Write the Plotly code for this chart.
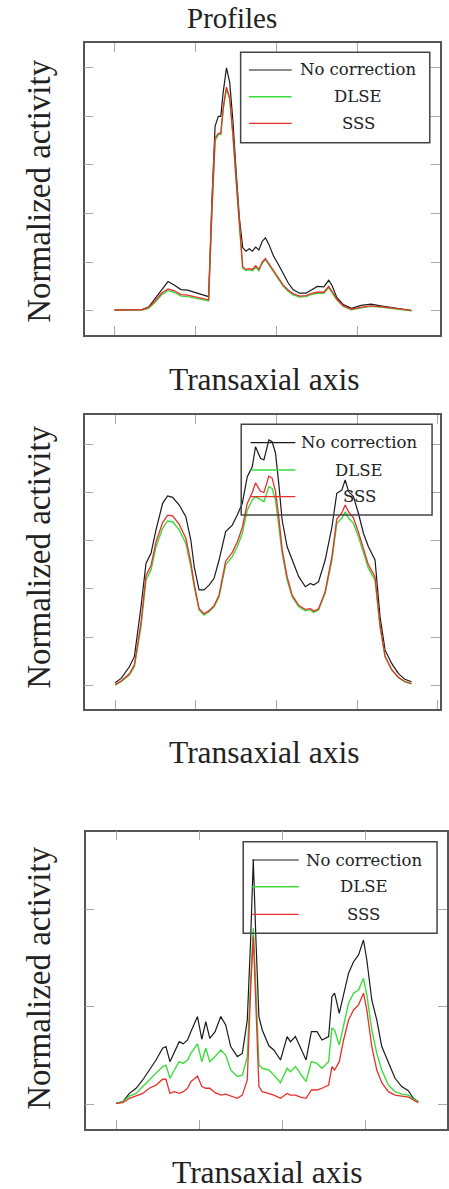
import plotly.graph_objects as go

W, H = 449, 1189

# ---------------- data ----------------
# Panel 1
x1 = [0, 10, 17, 21, 25, 29, 33, 37, 41, 45, 49, 53, 56, 58, 60, 62, 64, 65.5, 67, 69, 71, 73, 75, 77,
      79, 81, 83, 85, 87, 89, 91, 93, 95, 98, 101, 104, 107, 110, 114, 118, 122, 125, 129, 132, 134,
      137, 141, 146, 152, 158, 165, 173, 183]
nocorr1 = [0.003, 0.003, 0.005, 0.015, 0.05, 0.09, 0.12, 0.105, 0.087, 0.085, 0.077, 0.068, 0.06, 0.058,
           0.45, 0.76, 0.80, 0.80, 0.90, 1.0, 0.94, 0.78, 0.57, 0.38, 0.26, 0.245, 0.255, 0.245, 0.262,
           0.25, 0.285, 0.30, 0.275, 0.225, 0.19, 0.15, 0.115, 0.087, 0.072, 0.072, 0.09, 0.10, 0.098,
           0.125, 0.105, 0.055, 0.025, 0.01, 0.022, 0.027, 0.019, 0.01, 0.0]
dlse1 = [0.002, 0.002, 0.003, 0.01, 0.035, 0.065, 0.083, 0.075, 0.06, 0.058, 0.052, 0.048, 0.042, 0.04,
         0.40, 0.70, 0.725, 0.725, 0.83, 0.915, 0.87, 0.72, 0.53, 0.33, 0.175, 0.165, 0.168, 0.165, 0.18,
         0.165, 0.195, 0.21, 0.19, 0.155, 0.13, 0.10, 0.08, 0.065, 0.056, 0.058, 0.068, 0.072, 0.072,
         0.095, 0.075, 0.045, 0.018, 0.004, 0.012, 0.018, 0.014, 0.008, 0.0]
sss1 = [0.003, 0.003, 0.004, 0.013, 0.04, 0.072, 0.09, 0.082, 0.066, 0.064, 0.058, 0.053, 0.047, 0.045,
        0.41, 0.71, 0.73, 0.73, 0.835, 0.92, 0.875, 0.725, 0.535, 0.335, 0.18, 0.17, 0.173, 0.17, 0.185,
        0.17, 0.2, 0.215, 0.195, 0.16, 0.135, 0.105, 0.085, 0.07, 0.06, 0.062, 0.072, 0.076, 0.076,
        0.1, 0.08, 0.048, 0.02, 0.006, 0.014, 0.02, 0.016, 0.009, 0.001]

# Panel 2
x2 = [0, 3.7, 8.8, 11.9, 16, 19.1, 22.2, 25.3, 29.4, 32.5, 35.6, 39.7, 43.8, 46.9, 49, 52, 55.1, 58.2,
      61.3, 64.4, 68.5, 72.6, 75.7, 78.8, 81.9, 85, 87, 90.1, 92.2, 95.3, 97.3, 99.4, 101.4, 103.5,
      106.6, 109.7, 113.8, 117.9, 121, 123, 126.1, 130.2, 134.4, 137.4, 140.5, 142.6, 144.7, 147.7,
      150.8, 153.9, 157, 161.1, 164.2, 167.3, 171.4, 175.5, 179.6, 183.7]
nocorr2 = [0.011, 0.029, 0.077, 0.119, 0.326, 0.506, 0.548, 0.645, 0.755, 0.786, 0.78, 0.748, 0.70,
           0.603, 0.492, 0.396, 0.396, 0.416, 0.444, 0.52, 0.638, 0.665, 0.707, 0.755, 0.866, 0.907,
           0.99, 0.942, 0.935, 1.018, 1.011, 0.963, 0.838, 0.686, 0.575, 0.52, 0.451, 0.409, 0.423,
           0.416, 0.43, 0.52, 0.658, 0.797, 0.81, 0.852, 0.804, 0.783, 0.714, 0.631, 0.575, 0.52, 0.285,
           0.147, 0.091, 0.05, 0.025, 0.015]
dlse2 = [0.001, 0.015, 0.043, 0.077, 0.243, 0.437, 0.479, 0.575, 0.651, 0.682, 0.679, 0.645, 0.589,
         0.492, 0.409, 0.313, 0.292, 0.306, 0.326, 0.368, 0.5, 0.534, 0.575, 0.631, 0.727, 0.769, 0.783,
         0.769, 0.762, 0.824, 0.817, 0.769, 0.672, 0.548, 0.437, 0.368, 0.326, 0.31, 0.313, 0.303,
         0.313, 0.382, 0.52, 0.672, 0.693, 0.72, 0.693, 0.672, 0.617, 0.548, 0.485, 0.437, 0.243,
         0.119, 0.064, 0.033, 0.015, 0.006]
sss2 = [0.003, 0.018, 0.048, 0.085, 0.26, 0.455, 0.497, 0.595, 0.675, 0.706, 0.703, 0.668, 0.61, 0.51,
        0.42, 0.318, 0.297, 0.31, 0.33, 0.375, 0.515, 0.552, 0.595, 0.655, 0.755, 0.80, 0.84, 0.805,
        0.80, 0.868, 0.86, 0.805, 0.70, 0.565, 0.45, 0.375, 0.332, 0.315, 0.318, 0.308, 0.318, 0.39,
        0.535, 0.69, 0.715, 0.748, 0.72, 0.695, 0.635, 0.565, 0.50, 0.45, 0.25, 0.122, 0.066, 0.034,
        0.016, 0.007]

# Panel 3
x3 = [0, 4, 8, 12, 16, 20, 24, 28, 30, 32.4, 35, 38, 40.4, 43, 45, 49, 51.6, 54, 56.4, 59.6, 63, 66,
      69, 73, 76, 79, 81, 82.6, 84.2, 86, 88, 92, 95, 99, 103, 105, 108, 111, 114.4, 117.6, 121, 124,
      128, 130, 131.6, 134.4, 137, 140, 143, 146, 149, 151, 154, 157, 160, 164, 168, 172, 176, 179, 182]
nocorr3 = [0.004, 0.011, 0.045, 0.066, 0.10, 0.141, 0.182, 0.23, 0.237, 0.175, 0.216, 0.257, 0.248,
           0.264, 0.298, 0.36, 0.267, 0.339, 0.271, 0.298, 0.36, 0.326, 0.237, 0.196, 0.209, 0.346,
           0.674, 1.003, 0.674, 0.36, 0.305, 0.24, 0.223, 0.182, 0.278, 0.257, 0.278, 0.23, 0.182,
           0.298, 0.298, 0.264, 0.278, 0.442, 0.456, 0.373, 0.456, 0.538, 0.585, 0.613, 0.674, 0.592,
           0.428, 0.346, 0.237, 0.168, 0.107, 0.073, 0.056, 0.025, 0.011]
dlse3 = [0.004, 0.011, 0.034, 0.045, 0.073, 0.10, 0.127, 0.155, 0.161, 0.107, 0.141, 0.175, 0.168,
         0.182, 0.209, 0.248, 0.175, 0.23, 0.175, 0.196, 0.223, 0.202, 0.141, 0.114, 0.12, 0.196, 0.51,
         0.722, 0.469, 0.161, 0.148, 0.141, 0.12, 0.089, 0.148, 0.134, 0.155, 0.127, 0.093, 0.175,
         0.168, 0.148, 0.175, 0.312, 0.305, 0.243, 0.319, 0.415, 0.456, 0.469, 0.517, 0.449, 0.305,
         0.209, 0.141, 0.079, 0.052, 0.042, 0.038, 0.021, 0.011]
sss3 = [0.004, 0.007, 0.025, 0.034, 0.045, 0.066, 0.079, 0.103, 0.103, 0.045, 0.052, 0.045, 0.052,
        0.066, 0.093, 0.116, 0.073, 0.066, 0.066, 0.048, 0.038, 0.042, 0.034, 0.025, 0.038, 0.10,
        0.469, 0.688, 0.40, 0.073, 0.052, 0.045, 0.038, 0.025, 0.045, 0.038, 0.038, 0.03, 0.025,
        0.059, 0.059, 0.066, 0.079, 0.155, 0.141, 0.175, 0.264, 0.346, 0.387, 0.408, 0.456, 0.387,
        0.237, 0.141, 0.089, 0.052, 0.038, 0.034, 0.03, 0.018, 0.007]

series_names = ["No correction", "DLSE", "SSS"]
series_colors = ["#1a1a1a", "#3ddc3d", "#e8302c"]
series_widths = [1.2, 1.4, 1.3]

x_tickvals = [0, 50, 100, 150, 200]
y_tickvals_a = [0, 0.2, 0.4, 0.6, 0.8, 1.0]
y_tickvals_b = [0, 0.4, 0.8, 1.2]

title_text = "Profiles"
x_title = "Transaxial axis"
y_title = "Normalized activity"

# ---------------- layout helpers (pixel -> paper) ----------------
def px(x):
    return x / W


def py(y):
    return 1 - y / H


panels = [
    dict(x=x1, ys=[nocorr1, dlse1, sss1], dom_x=(85, 442), dom_y=(43, 335),
         xr=[-18.4, 200.6], yr=[-0.1, 1.102], yt=y_tickvals_a,
         leg_box=(241.7, 52.3, 431.7, 142.7), leg_line=(250, 293), leg_rows=(70, 96.7, 123.3), leg_tx=360,
         xlab=(265, 379), ylab=(39, 191)),
    dict(x=x2, ys=[nocorr2, dlse2, sss2], dom_x=(85, 442), dom_y=(415, 709),
         xr=[-18.95, 201.4], yr=[-0.098, 1.1216], yt=y_tickvals_a,
         leg_box=(242.3, 424.3, 434, 515), leg_line=(251.7, 296.7), leg_rows=(442.7, 470, 496.7), leg_tx=361,
         xlab=(265, 752), ylab=(39, 557)),
    dict(x=x3, ys=[nocorr3, dlse3, sss3], dom_x=(86, 449), dom_y=(831.7, 1129),
         xr=[-18.4, 199.3], yr=[-0.101, 1.118], yt=y_tickvals_b,
         leg_box=(244.3, 841.7, 439, 933.3), leg_line=(253.3, 300), leg_rows=(860, 886.7, 914.3), leg_tx=365.5,
         xlab=(268, 1172), ylab=(39, 978)),
]

fig = go.Figure()
shapes = []
annotations = []

axis_line = "#555555"
tick_col = "#a8a8a8"
serif = "Liberation Serif, Times New Roman, serif"
legend_font = "DejaVu Serif, serif"

for i, p in enumerate(panels, start=1):
    xa = "x" if i == 1 else f"x{i}"
    ya = "y" if i == 1 else f"y{i}"
    for name, col, lw, yv in zip(series_names, series_colors, series_widths, p["ys"]):
        fig.add_trace(go.Scatter(x=p["x"], y=yv, mode="lines", name=name,
                                 line=dict(color=col, width=lw), xaxis=xa, yaxis=ya,
                                 showlegend=False))
    common = dict(showline=True, linecolor=axis_line, linewidth=1.5, mirror="ticks",
                  ticks="inside", ticklen=9, tickwidth=1, tickcolor=tick_col,
                  showticklabels=False, showgrid=False, zeroline=False)
    fig.update_layout(**{
        ("xaxis" if i == 1 else f"xaxis{i}"): dict(
            domain=[px(p["dom_x"][0]), px(p["dom_x"][1])], range=p["xr"],
            tickvals=x_tickvals, anchor=ya, **common),
        ("yaxis" if i == 1 else f"yaxis{i}"): dict(
            domain=[py(p["dom_y"][1]), py(p["dom_y"][0])], range=p["yr"],
            tickvals=p["yt"], anchor=xa, **common),
    })
    # legend box
    bx0, by0, bx1, by1 = p["leg_box"]
    shapes.append(dict(type="rect", xref="paper", yref="paper",
                       x0=px(bx0), x1=px(bx1), y0=py(by1), y1=py(by0),
                       line=dict(color="#444444", width=1.5), fillcolor="rgba(0,0,0,0)"))
    for name, col, lw, ry in zip(series_names, series_colors, series_widths, p["leg_rows"]):
        shapes.append(dict(type="line", xref="paper", yref="paper",
                           x0=px(p["leg_line"][0]), x1=px(p["leg_line"][1]), y0=py(ry), y1=py(ry),
                           line=dict(color=col, width=lw)))
        annotations.append(dict(text=name, xref="paper", yref="paper", x=px(p["leg_tx"]), y=py(ry),
                                xanchor="center", yanchor="middle", showarrow=False,
                                font=dict(family=legend_font, size=16.5, color="#222222")))
    annotations.append(dict(text=x_title, xref="paper", yref="paper", x=px(p["xlab"][0]), y=py(p["xlab"][1]),
                            xanchor="center", yanchor="middle", showarrow=False,
                            font=dict(family=serif, size=31.5, color="#222222")))
    annotations.append(dict(text=y_title, xref="paper", yref="paper", x=px(p["ylab"][0]), y=py(p["ylab"][1]),
                            xanchor="center", yanchor="middle", showarrow=False, textangle=-90,
                            font=dict(family=serif, size=33, color="#222222")))

annotations.append(dict(text=title_text, xref="paper", yref="paper", x=px(233), y=py(18),
                        xanchor="center", yanchor="middle", showarrow=False,
                        font=dict(family=serif, size=29, color="#222222")))

fig.update_layout(width=W, height=H, margin=dict(l=0, r=0, t=0, b=0),
                  paper_bgcolor="white", plot_bgcolor="white",
                  shapes=shapes, annotations=annotations, showlegend=False)

fig.write_html("out.html")
